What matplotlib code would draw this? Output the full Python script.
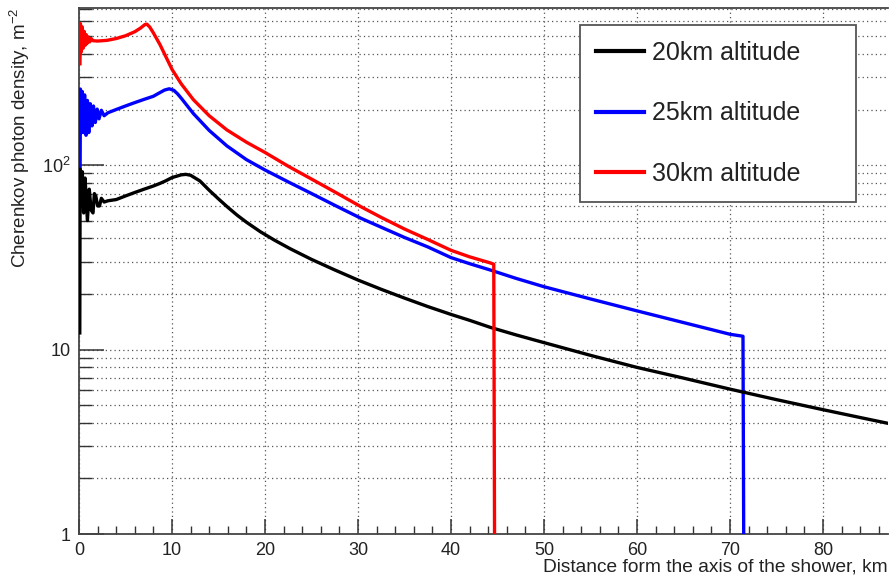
import numpy as np
import matplotlib
matplotlib.use("Agg")
import matplotlib.pyplot as plt
from matplotlib.ticker import FixedLocator, FixedFormatter, MultipleLocator, NullFormatter

plt.rcParams['font.family'] = ['Liberation Sans', 'DejaVu Sans']
plt.rcParams['mathtext.fontset'] = 'custom'
plt.rcParams['mathtext.rm'] = 'Liberation Sans'
plt.rcParams['mathtext.it'] = 'Liberation Sans:italic'

# values (km, photons per m^2)
x_20 = [0.08, 0.12, 0.25, 0.35, 0.5, 0.65, 0.9, 1.1, 1.3, 1.5, 1.65, 1.8, 2.0, 2.2, 2.4, 2.7, 3.1, 4, 5, 6,
        7, 8, 8.7, 9.3, 10, 11, 11.5, 12, 13, 14, 15, 16, 17, 18, 19.5, 21, 22.7, 25, 27.5, 30,
        32.5, 35, 37.5, 40, 42, 44.2, 47, 50, 55, 60, 65, 70, 75, 80, 84, 87]
y_20 = [12.3, 95, 60, 92, 55, 85, 50, 74, 57, 55, 70, 68, 60, 60, 66, 63, 64, 65, 68, 71,
        74, 77, 79.5, 82, 85.5, 88.5, 89, 88, 82, 73, 65.5, 59, 53.5, 49, 43.5, 39.2, 35.2, 30.8, 27, 23.8,
        21.2, 19, 17.1, 15.5, 14.4, 13.2, 12, 10.9, 9.3, 8, 7, 6.1, 5.35, 4.72, 4.28, 3.98]

x_25 = [0.1, 0.15, 0.25, 0.35, 0.45, 0.6, 0.75, 0.9, 1.05, 1.2, 1.4, 1.55, 1.75, 1.95, 2.15, 2.4, 2.7, 3.1, 4, 5,
        6, 7, 8, 8.7, 9.2, 9.7, 10.2, 10.6, 11, 12.3, 14, 15.9, 18, 20, 22.5, 24.9, 27.5, 30.3, 32.5, 35,
        37.5, 40, 42, 44.2, 47, 50, 55, 60, 65, 70, 71.4, 71.5]
y_25 = [56.5, 258, 150, 250, 150, 240, 145, 224, 150, 215, 163, 209, 170, 201, 178, 198, 185, 192, 200, 209,
        218, 227, 236, 247, 255, 259, 254, 243, 230, 190, 154, 127, 107, 94, 81, 70.5, 60.5, 51.5, 46, 40.5,
        36, 31.5, 29.2, 27, 24.3, 21.9, 18.8, 16.2, 14, 12.1, 11.8, 0.5]

x_30 = [0.1, 0.15, 0.25, 0.35, 0.45, 0.55, 0.65, 0.75, 0.85, 1.0, 1.15, 1.3, 1.5, 2, 3, 4, 5, 6, 6.6, 7.1,
        7.3, 7.6, 8, 8.7, 9.3, 10, 11, 12.3, 14, 15.9, 18, 20, 22.5, 24.9, 27.5, 30.3, 32.5, 35, 37.5, 40,
        42, 44.2, 44.6, 44.7]
y_30 = [354, 584, 411, 560, 430, 530, 445, 510, 455, 495, 465, 485, 472, 470, 474, 485, 502, 528, 552, 578,
        580, 560, 520, 450, 390, 330, 275, 226, 185, 155, 133, 117, 98.5, 84.5, 71.5, 59.5, 52, 45, 39.5, 34.5,
        31.8, 29.5, 29, 0.5]

labels = ['20km altitude', '25km altitude', '30km altitude']
y_ticks = [1, 10, 100]
y_tick_labels = ['1', '10', '10$^2$']

fig = plt.figure(figsize=(8.9, 5.79), dpi=100)
ax = fig.add_axes([0.0888, 0.0777, 0.909, 0.9085])

lw = 2.4
l25, = ax.plot(x_25, y_25, color='#0000ff', lw=lw, zorder=3)
l20, = ax.plot(x_20, y_20, color='black', lw=lw, zorder=4)
l30, = ax.plot(x_30, y_30, color='#ff0000', lw=lw, zorder=5)

ax.set_yscale('log')
ax.set_xlim(0, 87)
ax.set_ylim(1, 710)

ax.xaxis.set_major_locator(MultipleLocator(10))
ax.xaxis.set_minor_locator(MultipleLocator(2))
ax.yaxis.set_major_locator(FixedLocator(y_ticks))
ax.yaxis.set_major_formatter(FixedFormatter(y_tick_labels))
minor_y = [m * d for d in (1, 10, 100) for m in range(2, 10)]
ax.yaxis.set_minor_locator(FixedLocator(minor_y))
ax.yaxis.set_minor_formatter(NullFormatter())

ax.tick_params(axis='both', which='both', direction='in', colors='#333333',
               labelcolor='#222222', labelsize=13, pad=6)
ax.tick_params(axis='x', which='major', length=11, width=1.1)
ax.tick_params(axis='x', which='minor', length=5.5, width=1.0)
ax.tick_params(axis='y', which='major', length=18, width=1.1)
ax.tick_params(axis='y', which='minor', length=9, width=1.0)

ax.grid(True, axis='x', which='major', linestyle=(0, (1, 2.5)), color='#555555', lw=0.9)
ax.grid(True, axis='y', which='both', linestyle=(0, (1, 2.5)), color='#555555', lw=0.9)
ax.set_axisbelow(True)

for s in ['left', 'bottom', 'top']:
    ax.spines[s].set_color('#444444')
    ax.spines[s].set_linewidth(1.3)
ax.spines['right'].set_visible(False)

ax.set_xlabel('Distance form the axis of the shower, km', fontsize=13.8, color='#222222', ha='right')
ax.xaxis.set_label_coords(1.0, -0.047)
ax.set_ylabel('Cherenkov photon density, m$^{-2}$', fontsize=13.5, color='#222222',
              ha='right', va='center')
ax.yaxis.set_label_coords(-0.073, 1.0)

leg = ax.legend([l20, l25, l30], labels, loc='upper left', mode='expand',
                bbox_to_anchor=(0.619, 0, 0.341, 0.9677), borderaxespad=0,
                fontsize=18, frameon=True, fancybox=False, framealpha=1,
                handlelength=1.9, handletextpad=0.35, labelspacing=1.45, borderpad=0.65)
leg.get_frame().set_edgecolor('#555555')
leg.get_frame().set_linewidth(1.3)
for h in leg.get_lines():
    h.set_linewidth(3)
for t in leg.get_texts():
    t.set_color('#222222')

fig.savefig('out.png', dpi=100)
